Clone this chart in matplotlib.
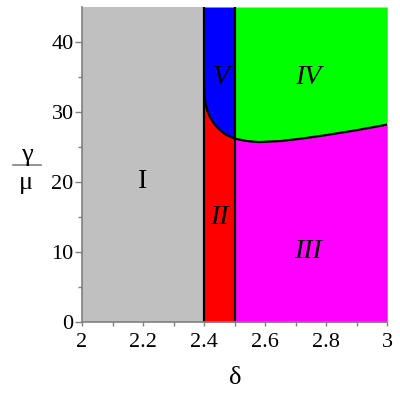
import matplotlib.pyplot as plt
import numpy as np

# boundary curve between the upper and lower regions
delta = [2.4, 2.401, 2.405, 2.41, 2.42, 2.435, 2.45, 2.47, 2.5,
         2.54, 2.58, 2.65, 2.72, 2.8, 2.9, 3.0]
ratio = [34.5, 32.5, 31.2, 30.3, 29.2, 28.2, 27.5, 26.8, 26.2,
         25.85, 25.7, 25.85, 26.2, 26.7, 27.4, 28.2]

region_names = ['I', 'II', 'III', 'IV', 'V']
region_x = [2.2, 2.45, 2.74, 2.74, 2.455]
region_y = [20, 15, 10, 35, 35]

ymax = 45
plt.rcParams['font.family'] = ['Liberation Serif', 'DejaVu Serif']

d = np.array(delta)
r = np.array(ratio)
left = d <= 2.5
right = d >= 2.5

fig = plt.figure(figsize=(4, 4), dpi=100)
ax = fig.add_axes([0.205, 0.195, 0.763, 0.7875])

ax.fill_between([2.0, 2.4], 0, ymax, color='#c0c0c0', lw=0)
ax.fill_between(d[left], 0, r[left], color='#ff0000', lw=0)
ax.fill_between(d[left], r[left], ymax, color='#0000ff', lw=0)
ax.fill_between(d[right], 0, r[right], color='#ff00ff', lw=0)
ax.fill_between(d[right], r[right], ymax, color='#00ff00', lw=0)

ax.plot(d, r, color='black', lw=1.6)
ax.axvline(2.4, color='black', lw=1.6)
ax.axvline(2.5, color='black', lw=1.6)

for name, x, y in zip(region_names, region_x, region_y):
    style = 'normal' if name == 'I' else 'italic'
    ax.text(x, y, name, ha='center', va='center', fontsize=20, style=style)

ax.set_xlim(2, 3)
ax.set_ylim(0, ymax)
ax.set_xticks([2, 2.2, 2.4, 2.6, 2.8, 3])
ax.set_xticklabels(['2', '2.2', '2.4', '2.6', '2.8', '3'])
ax.set_yticks([0, 10, 20, 30, 40])
ax.set_xticks(np.arange(2.1, 3, 0.2), minor=True)
ax.set_yticks(np.arange(5, 45, 10), minor=True)

for s in ['top', 'right']:
    ax.spines[s].set_visible(False)
for s in ['left', 'bottom']:
    ax.spines[s].set_color('#808080')
    ax.spines[s].set_linewidth(1.2)

ax.tick_params(axis='both', which='both', colors='#808080', width=1,
               labelcolor='black', labelsize=16)
ax.tick_params(axis='y', which='major', length=5, pad=1)
ax.tick_params(axis='y', which='minor', length=3)
ax.tick_params(axis='x', which='both', length=3, pad=5)

fig.text(0.5875, 0.055, 'δ', ha='center', va='center', fontsize=19)
fig.text(0.068, 0.612, 'γ', ha='center', va='center', fontsize=19)
fig.add_artist(plt.Line2D([0.032, 0.102], [0.587, 0.587], color='#808080', lw=1.2))
fig.text(0.065, 0.543, 'μ', ha='center', va='center', fontsize=19)

fig.savefig('out.png', dpi=100)
